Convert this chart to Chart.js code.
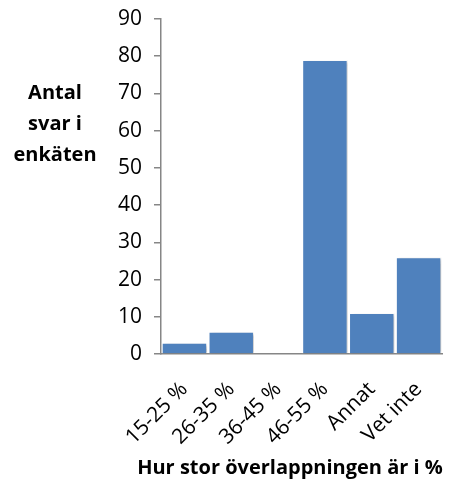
<!DOCTYPE html>
<html>
<head>
<meta charset="utf-8">
<script src="https://cdn.jsdelivr.net/npm/chart.js@4/dist/chart.umd.min.js"></script>
<style>
  html, body { margin: 0; padding: 0; background: #fff; }
  #wrap { width: 451px; height: 479px; }
</style>
</head>
<body>
<div id="wrap"><canvas id="c" width="451" height="479"></canvas></div>
<script>
const categories = ['15-25 %', '26-35 %', '36-45 %', '46-55 %', 'Annat', 'Vet inte'];
const answers = [3, 6, 0, 79, 11, 26];
const yTitleLines = ['Antal', 'svar i', 'enkäten'];
const xTitle = 'Hur stor överlappningen är i %';

const FONT = "'Open Sans', 'Liberation Sans', sans-serif";
const AXIS_GREY = '#868686';

// Soft drop shadow behind the bars
const barShadow = {
  id: 'barShadow',
  beforeDatasetsDraw(chart) {
    const ctx = chart.ctx;
    ctx.save();
    ctx.shadowColor = 'rgba(0,0,0,0.22)';
    ctx.shadowBlur = 3;
    ctx.shadowOffsetX = 3;
    ctx.shadowOffsetY = 1;
  },
  afterDatasetsDraw(chart) {
    chart.ctx.restore();
  }
};

// Horizontal, stacked axis titles
const axisTitles = {
  id: 'axisTitles',
  afterDraw(chart) {
    const ctx = chart.ctx;
    ctx.save();
    ctx.fillStyle = '#000';
    ctx.font = "bold 20px " + FONT;
    ctx.textAlign = 'center';
    ctx.textBaseline = 'middle';
    yTitleLines.forEach((line, i) => {
      ctx.fillText(line, 55, 93 + i * 31);
    });
    ctx.fillText(xTitle, 290, 468);
    ctx.restore();
  }
};

new Chart(document.getElementById('c'), {
  type: 'bar',
  data: {
    labels: categories,
    datasets: [{
      data: answers,
      backgroundColor: '#4F81BD',
      borderColor: '#ffffff',
      borderWidth: 1,
      categoryPercentage: 1.0,
      barPercentage: 0.97
    }]
  },
  options: {
    responsive: false,
    animation: false,
    layout: { padding: { top: 19, right: 9, left: 0, bottom: 0 } },
    plugins: {
      legend: { display: false },
      tooltip: { enabled: false }
    },
    scales: {
      x: {
        grid: { display: false },
        border: { display: true, color: AXIS_GREY, width: 1.5 },
        ticks: {
          color: '#000',
          font: { family: FONT, size: 21 },
          minRotation: 45,
          maxRotation: 45,
          padding: 15
        },
        afterFit(scale) {
          scale.height = 479 - 354;
          scale.paddingLeft = 0;
          scale.paddingRight = 0;
        }
      },
      y: {
        min: 0,
        max: 90,
        ticks: {
          stepSize: 10,
          color: '#000',
          font: { family: FONT, size: 21 },
          padding: 12
        },
        grid: {
          drawOnChartArea: false,
          drawTicks: true,
          tickLength: 7,
          color: AXIS_GREY,
          lineWidth: 1.5
        },
        border: { display: true, color: AXIS_GREY, width: 1.5 },
        afterFit(scale) {
          scale.width = 161;
          scale.paddingTop = 0;
          scale.paddingBottom = 0;
        }
      }
    }
  },
  plugins: [barShadow, axisTitles]
});
</script>
</body>
</html>
